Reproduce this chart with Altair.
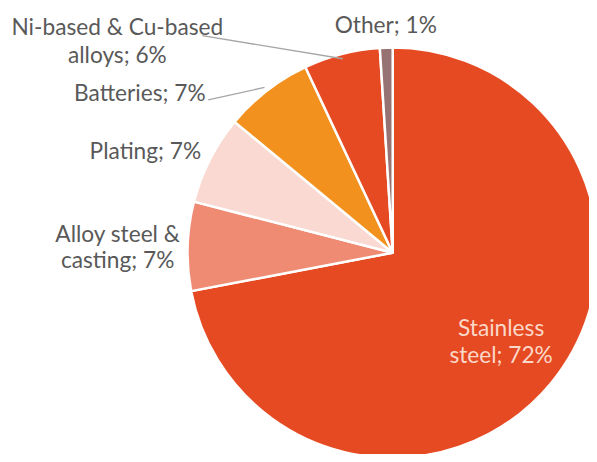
import math
import altair as alt
import pandas as pd

categories = ["Stainless steel", "Alloy steel & casting", "Plating", "Batteries",
              "Ni-based & Cu-based alloys", "Other"]
values = [72, 7, 7, 7, 6, 1]
labels = ["Stainless\nsteel; 72%", "Alloy steel &\ncasting; 7%", "Plating; 7%",
          "Batteries; 7%", "Ni-based & Cu-based\nalloys; 6%", "Other; 1%"]
colors = ["#E54A22", "#F08B73", "#F9D9D2", "#F3911F", "#E54A22", "#967272"]

df = pd.DataFrame({
    "category": categories,
    "value": values,
    "label": labels,
    "order": list(range(len(categories))),
})

W, H = 398, 400
R = 208
FONT = "Lato"
FS = 23
GRAY = "#595959"

# label layout: radius along mid-angle, dx, dy, line height, colour
layout = {
    "Stainless steel": (140, 2, -5, 28, "#FCD8C8"),
    "Alloy steel & casting": (279, 0, -2, 26, GRAY),
    "Plating": (250, -28, 19, 26, GRAY),
    "Batteries": (260, -97, 52, 26, GRAY),
    "Ni-based & Cu-based alloys": (250, -217, 21, 29, GRAY),
    "Other": (225, 0, 2, 26, GRAY),
}
# leader lines: start radius on mid-angle, end point (plot coords)
leaders = {
    "Batteries": (212, 12, 45),
    "Ni-based & Cu-based alloys": (203, 6, -20),
}

base = alt.Chart(df)

arcs = base.mark_arc(radius=R, stroke="white", strokeWidth=2.5).encode(
    theta=alt.Theta("value:Q", stack=True),
    color=alt.Color("category:N", scale=alt.Scale(domain=categories, range=colors), legend=None),
    order=alt.Order("order:Q", sort="ascending"),
)

mid = base.transform_window(
    cum="sum(value)", sort=[alt.SortField("order", order="ascending")],
    frame=[None, 0],
).transform_calculate(
    mid="datum.cum - datum.value / 2"
)

theta_mid = alt.Theta("mid:Q", scale=alt.Scale(domain=[0, 100], range=[0, 2 * math.pi]), stack=None)

layers = [arcs]
for cat, (r0, ex, ey) in leaders.items():
    rule = mid.transform_filter(alt.datum.category == cat).transform_calculate(
        lx=f"{W/2} + {r0} * sin(datum.mid / 100 * 2 * PI)",
        ly=f"{H/2} - {r0} * cos(datum.mid / 100 * 2 * PI)",
    ).mark_rule(color="#A6A6A6", strokeWidth=1.3).encode(
        x=alt.X("lx:Q", scale=None),
        y=alt.Y("ly:Q", scale=None),
        x2=alt.value(ex),
        y2=alt.value(ey),
    )
    layers.append(rule)

for cat, (r, dx, dy, lh, col) in layout.items():
    txt = mid.transform_filter(alt.datum.category == cat).mark_text(
        radius=r, dx=dx, dy=dy, align="center", baseline="alphabetic",
        font=FONT, fontSize=FS, color=col, lineBreak="\n", lineHeight=lh,
    ).encode(
        theta=theta_mid,
        text="label:N",
    )
    layers.append(txt)

chart = alt.layer(*layers).properties(
    width=W, height=H,
    autosize=alt.AutoSizeParams(type="none"),
    padding={"left": 191, "top": 45, "right": 0, "bottom": 1},
).configure_view(stroke=None)

chart.save("out.html", embed_options={"renderer": "svg", "actions": False})
